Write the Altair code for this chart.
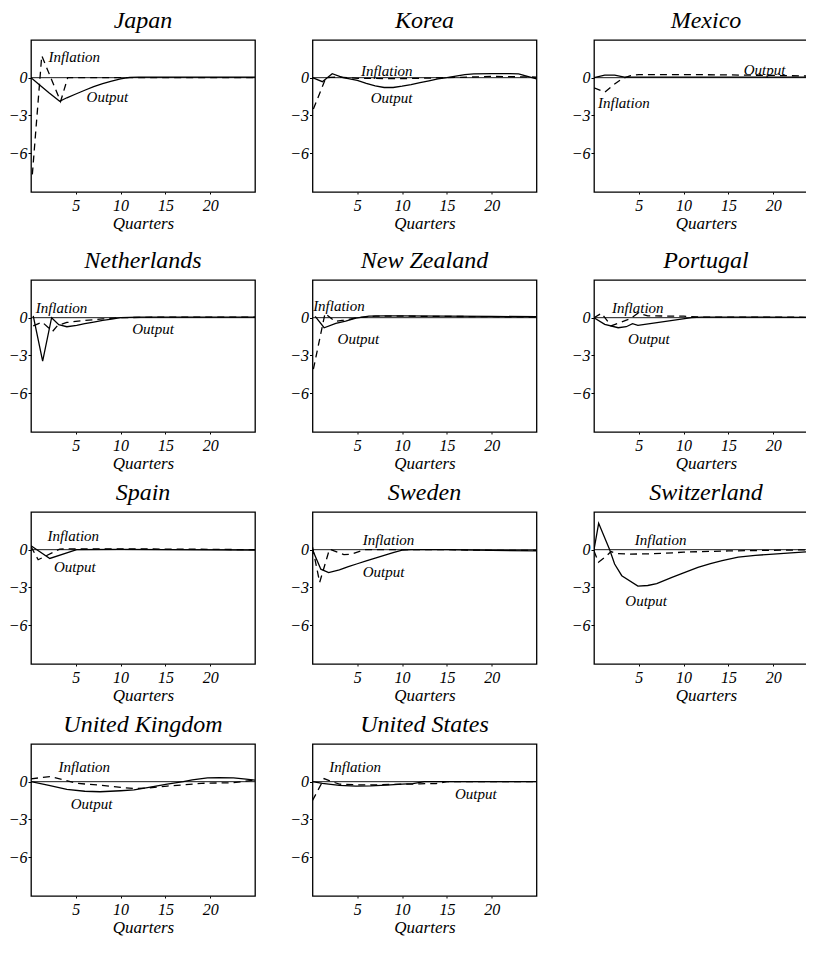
import altair as alt
import pandas as pd

FONT = "Liberation Serif"

COUNTRIES = ["Japan", "Korea", "Mexico", "Netherlands", "New Zealand", "Portugal",
             "Spain", "Sweden", "Switzerland", "United Kingdom", "United States"]

# ---- Output (solid) and Inflation (dashed) responses ----
JAPAN_OUT_X = [0, 1, 2, 3.2, 4, 5, 6, 7, 8, 9, 10, 11, 12, 25]
JAPAN_OUT_Y = [0, -0.6, -1.2, -1.88, -1.6, -1.3, -1.0, -0.72, -0.47, -0.28, -0.1, 0.02, 0.05, 0.05]
JAPAN_INF_X = [0.15, 1.2, 3.3, 4.1, 25]
JAPAN_INF_Y = [-7.7, 1.75, -1.9, 0, 0]

KOREA_OUT_X = [0, 1.1, 2.2, 3.4, 4, 5, 6, 7, 8, 9, 10, 11, 12, 13, 14, 15, 16, 17, 18, 20, 22, 23, 24, 25]
KOREA_OUT_Y = [0, -0.32, 0.32, 0, -0.08, -0.22, -0.45, -0.65, -0.78, -0.78, -0.68, -0.55, -0.4, -0.25,
               -0.1, 0, 0.13, 0.25, 0.3, 0.32, 0.32, 0.3, 0.1, -0.1]
KOREA_INF_X = [0.1, 1.5, 2, 3, 4, 5, 10, 15, 20, 25]
KOREA_INF_Y = [-2.5, 0, 0.02, 0.05, 0, -0.05, -0.08, 0, 0.1, 0.05]

MEXICO_OUT_X = [0, 1.2, 2.3, 3.4, 5, 10, 15, 20, 25]
MEXICO_OUT_Y = [0, 0.2, 0.2, 0.05, 0.05, 0.05, 0.05, 0.05, 0.05]
MEXICO_INF_X = [0, 1.2, 2.2, 3.1, 4, 5, 10, 15, 20, 25]
MEXICO_INF_Y = [-0.8, -1.15, -0.55, -0.1, 0.15, 0.25, 0.25, 0.22, 0.18, 0.12]

NETH_OUT_X = [0.25, 1.3, 2.3, 3.1, 4, 5.1, 6, 7, 8, 9, 10, 12, 25]
NETH_OUT_Y = [0.15, -3.45, 0, -0.55, -0.72, -0.62, -0.48, -0.35, -0.22, -0.12, 0, 0.05, 0.05]
NETH_INF_X = [0.25, 1.25, 2.4, 3, 4, 5, 6, 8, 10, 15, 25]
NETH_INF_Y = [-0.65, -0.35, -1.1, -0.6, -0.38, -0.3, -0.22, -0.1, 0, 0.05, 0.05]

NZ_OUT_X = [0.3, 1.3, 2.6, 3.7, 4.85, 6.3, 8, 10, 15, 20, 25]
NZ_OUT_Y = [0.1, -0.8, -0.45, -0.27, -0.03, 0.13, 0.15, 0.15, 0.13, 0.1, 0.08]
NZ_INF_X = [0.1, 1.4, 2.5, 3.5, 5, 7, 10, 15, 20, 25]
NZ_INF_Y = [-4.1, 0.35, -0.3, -0.2, 0, 0.12, 0.12, 0.1, 0.08, 0.05]

PORT_OUT_X = [0, 1.2, 2.7, 3.6, 4.3, 4.9, 8, 10.9, 12, 25]
PORT_OUT_Y = [0, -0.53, -0.8, -0.72, -0.48, -0.61, -0.3, 0, 0.05, 0.03]
PORT_INF_X = [0, 0.85, 1.9, 4.0, 4.9, 6, 8, 10, 12, 25]
PORT_INF_Y = [0, 0.35, -0.65, -0.1, 0.35, 0.15, 0.13, 0.12, 0.05, 0.03]

SPAIN_OUT_X = [0, 2.1, 5.1, 10, 15, 20, 25]
SPAIN_OUT_Y = [0.32, -0.7, 0, 0.02, 0, -0.02, -0.03]
SPAIN_INF_X = [0, 0.8, 3.2, 5, 10, 15, 20, 25]
SPAIN_INF_Y = [0.25, -0.8, 0.05, 0.07, 0.07, 0.05, 0.03, 0]

SWE_OUT_X = [0, 0.93, 1.8, 3, 4, 5, 6, 7, 8, 9, 10, 11, 15, 20, 25]
SWE_OUT_Y = [0, -1.55, -1.83, -1.6, -1.35, -1.12, -0.9, -0.68, -0.46, -0.24, -0.03, 0, 0, -0.05, -0.1]
SWE_INF_X = [0, 0.8, 1.9, 3.5, 4.4, 5.8, 8, 15, 20, 25]
SWE_INF_Y = [0.2, -2.6, 0.05, -0.4, -0.35, 0, 0, 0, -0.05, -0.05]

SWI_OUT_X = [0, 0.52, 1.75, 2.3, 3.1, 4.9, 6, 7, 8.7, 10, 11.6, 13, 14.3, 16.1, 18, 20, 22, 24, 25]
SWI_OUT_Y = [0, 2.1, 0, -1.14, -2.07, -2.9, -2.85, -2.7, -2.2, -1.85, -1.4, -1.1, -0.87, -0.6, -0.45,
             -0.35, -0.25, -0.15, -0.1]
SWI_INF_X = [0, 0.5, 1.4, 1.9, 2.5, 4, 6, 8, 10, 12, 15, 20, 25]
SWI_INF_Y = [-0.1, -1.0, -0.5, -0.15, -0.3, -0.35, -0.33, -0.28, -0.2, -0.15, -0.1, -0.05, 0]

UK_OUT_X = [0, 2, 4, 6, 7.7, 10, 11.5, 13, 15.2, 17, 18, 19.7, 21, 22.6, 24, 25]
UK_OUT_Y = [0, -0.3, -0.62, -0.76, -0.8, -0.72, -0.65, -0.48, -0.2, 0, 0.15, 0.3, 0.33, 0.3, 0.2, 0.13]
UK_INF_X = [0, 2.1, 3.2, 5.1, 7.7, 11.5, 13, 15.2, 17, 19, 22.6, 25]
UK_INF_Y = [0.23, 0.4, 0.23, -0.13, -0.28, -0.55, -0.5, -0.35, -0.25, -0.13, -0.08, 0.13]

US_OUT_X = [0, 1.1, 3, 4.85, 6.5, 8.2, 10, 11.2, 12.5, 15, 20, 25]
US_OUT_Y = [0, -0.13, -0.3, -0.35, -0.33, -0.27, -0.2, -0.16, 0, 0, 0, 0]
US_INF_X = [0, 1.3, 2, 3, 5, 7, 10, 12, 12.7, 13.8, 15, 20, 25]
US_INF_Y = [-1.5, 0.25, 0.05, -0.2, -0.25, -0.25, -0.2, -0.18, -0.15, -0.15, 0, 0, 0]

# ---- label anchors (left edge x, vertical centre y) in data units ----
INF_LABEL_X = [1.94, 5.4, 0.45, 0.52, 0.07, 2.0, 1.83, 5.6, 4.55, 3.06, 1.87]
INF_LABEL_Y = [1.64, 0.53, -2.0, 0.8, 0.93, 0.8, 1.11, 0.8, 0.77, 1.18, 1.18]
OUT_LABEL_X = [6.2, 6.5, 16.7, 11.3, 2.8, 3.8, 2.57, 5.6, 3.5, 4.44, 15.9]
OUT_LABEL_Y = [-1.54, -1.6, 0.6, -0.93, -1.72, -1.72, -1.35, -1.8, -4.06, -1.74, -0.95]

SERIES = [
    (JAPAN_OUT_X, JAPAN_OUT_Y, JAPAN_INF_X, JAPAN_INF_Y),
    (KOREA_OUT_X, KOREA_OUT_Y, KOREA_INF_X, KOREA_INF_Y),
    (MEXICO_OUT_X, MEXICO_OUT_Y, MEXICO_INF_X, MEXICO_INF_Y),
    (NETH_OUT_X, NETH_OUT_Y, NETH_INF_X, NETH_INF_Y),
    (NZ_OUT_X, NZ_OUT_Y, NZ_INF_X, NZ_INF_Y),
    (PORT_OUT_X, PORT_OUT_Y, PORT_INF_X, PORT_INF_Y),
    (SPAIN_OUT_X, SPAIN_OUT_Y, SPAIN_INF_X, SPAIN_INF_Y),
    (SWE_OUT_X, SWE_OUT_Y, SWE_INF_X, SWE_INF_Y),
    (SWI_OUT_X, SWI_OUT_Y, SWI_INF_X, SWI_INF_Y),
    (UK_OUT_X, UK_OUT_Y, UK_INF_X, UK_INF_Y),
    (US_OUT_X, US_OUT_Y, US_INF_X, US_INF_Y),
]

X_TICKS = [5, 10, 15, 20]
Y_TICKS = [0, -3, -6]
X_DOMAIN = [0, 25]
Y_DOMAIN = [-9.1, 3]

W, H = 224, 152


def panel(i):
    name = COUNTRIES[i]
    ox, oy, ix, iy = SERIES[i]
    out_df = pd.DataFrame({"x": ox, "y": oy, "order": range(len(ox))})
    inf_df = pd.DataFrame({"x": ix, "y": iy, "order": range(len(ix))})
    lab_df = pd.DataFrame({
        "x": [INF_LABEL_X[i], OUT_LABEL_X[i]],
        "y": [INF_LABEL_Y[i], OUT_LABEL_Y[i]],
        "t": ["Inflation", "Output"],
    })
    xs = alt.Scale(domain=X_DOMAIN, nice=False, zero=False)
    ys = alt.Scale(domain=Y_DOMAIN, nice=False, zero=False)
    xaxis = alt.Axis(values=X_TICKS, title="Quarters", grid=False, domain=False,
                     tickSize=2, tickColor="black", labelPadding=3,
                     labelFont=FONT, labelFontStyle="italic", labelFontSize=16, labelColor="black",
                     titleFont=FONT, titleFontStyle="italic", titleFontWeight="normal",
                     titleFontSize=17, titleColor="black", titlePadding=2)
    yaxis = alt.Axis(values=Y_TICKS, title=None, grid=False, domain=False,
                     tickSize=3, tickColor="black", labelPadding=1,
                     labelFont=FONT, labelFontStyle="italic", labelFontSize=16, labelColor="black")

    zero = alt.Chart(pd.DataFrame({"y": [0]})).mark_rule(color="black", strokeWidth=0.9).encode(
        y=alt.Y("y:Q", scale=ys, axis=yaxis))
    out_line = alt.Chart(out_df).mark_line(color="black", strokeWidth=1.3, clip=True).encode(
        x=alt.X("x:Q", scale=xs, axis=xaxis),
        y=alt.Y("y:Q", scale=ys, axis=yaxis),
        order="order:O")
    inf_line = alt.Chart(inf_df).mark_line(color="black", strokeWidth=1.3, strokeDash=[7, 5],
                                           clip=True).encode(
        x=alt.X("x:Q", scale=xs, axis=xaxis),
        y=alt.Y("y:Q", scale=ys, axis=yaxis),
        order="order:O")
    labels = alt.Chart(lab_df).mark_text(align="left", baseline="middle", font=FONT,
                                         fontStyle="italic", fontSize=15, color="black").encode(
        x=alt.X("x:Q", scale=xs, axis=xaxis),
        y=alt.Y("y:Q", scale=ys, axis=yaxis),
        text="t:N")
    return alt.layer(zero, out_line, inf_line, labels).properties(
        width=W, height=H,
        title=alt.TitleParams(name, font=FONT, fontStyle="italic", fontWeight="normal",
                              fontSize=24, color="black", offset=7, anchor="middle"))


panels = [panel(i) for i in range(len(COUNTRIES))]
rows = [alt.hconcat(*panels[r * 3:(r + 1) * 3], spacing=31.5) for r in range(4)]

chart = alt.vconcat(
    rows[0],
    alt.vconcat(rows[1], alt.vconcat(rows[2], rows[3], spacing=8), spacing=8),
    spacing=16,
).properties(padding={"left": -1, "top": 0, "right": -14, "bottom": 0}).configure(
    background="white",
    view=alt.ViewConfig(stroke="black", strokeWidth=1.3),
)

chart.save("out.html", embed_options={"renderer": "svg", "actions": False})
